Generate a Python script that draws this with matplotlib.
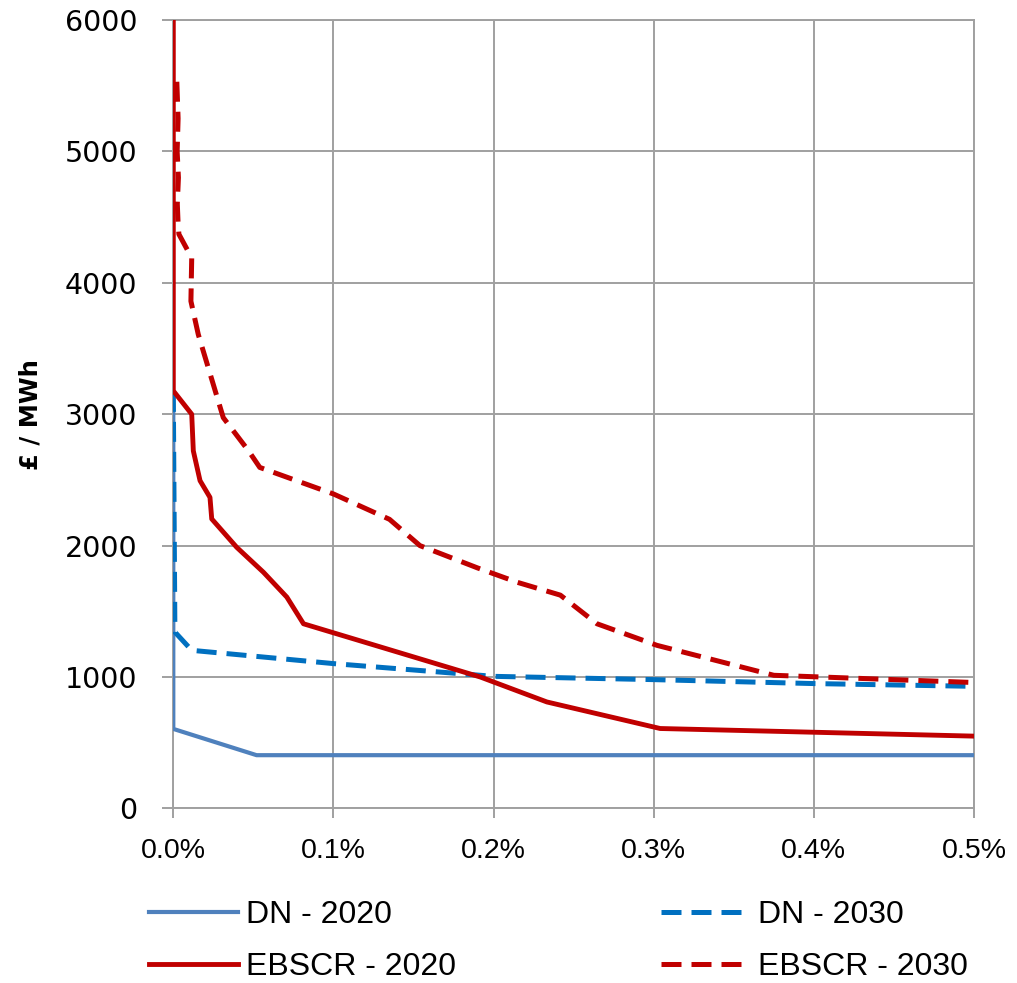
import matplotlib
matplotlib.use("Agg")
import matplotlib.pyplot as plt
from matplotlib.ticker import FuncFormatter

# ---- data (x in %, y in £/MWh) ----
dn2020_x = [0.0, 0.0, 0.052, 0.5]
dn2020_y = [3170, 605, 405, 405]

dn2030_x = [0.0, 0.001, 0.0115, 0.1, 0.2, 0.3, 0.4, 0.5]
dn2030_y = [3170, 1342, 1203, 1102, 1005, 980, 950, 929]

ebscr2020_x = [0.0, 0.0, 0.0115, 0.0125, 0.0167, 0.0229, 0.024, 0.0396, 0.0563,
               0.0709, 0.0813, 0.1917, 0.2333, 0.304, 0.5]
ebscr2020_y = [6000, 3178, 3000, 2721, 2494, 2367, 2203, 1987, 1797,
               1608, 1405, 1000, 810, 608, 550]

ebscr2030_x = [0.0022, 0.0030, 0.0024, 0.0032, 0.0025, 0.0030, 0.0035, 0.0115, 0.0110,
               0.0156, 0.0187, 0.0312, 0.047, 0.054, 0.1, 0.135, 0.154, 0.19,
               0.215, 0.2417, 0.2646, 0.302, 0.375, 0.5]
ebscr2030_y = [5530, 5250, 5000, 4800, 4600, 4450, 4370, 4189, 3860,
               3607, 3481, 2974, 2721, 2595, 2393, 2200, 2000, 1830,
               1720, 1623, 1405, 1241, 1013, 958]

labels = ["DN - 2020", "DN - 2030", "EBSCR - 2020", "EBSCR - 2030"]
x_ticks = [0.0, 0.1, 0.2, 0.3, 0.4, 0.5]
y_ticks = [0, 1000, 2000, 3000, 4000, 5000, 6000]

W, H = 1017, 983
fig = plt.figure(figsize=(W / 100, H / 100), dpi=100)
ax = fig.add_axes([173.3 / W, 1 - 808.4 / H, (974 - 173.3) / W, (808.4 - 20) / H])

grid_c = "#A0A0A0"
ax.set_xlim(0, 0.5)
ax.set_ylim(0, 6000)
ax.set_xticks(x_ticks)
ax.set_yticks(y_ticks)
ax.grid(True, color=grid_c, lw=1.4, zorder=0)
ax.set_axisbelow(True)
for s in ax.spines.values():
    s.set_color(grid_c)
    s.set_linewidth(1.4)

blue_solid = "#4F81BD"
blue_dash = "#0070C0"
red = "#C00000"
dash = (4.0, 2.0)

l1, = ax.plot(dn2020_x, dn2020_y, color=blue_solid, lw=3.0, solid_joinstyle="round", zorder=3)
l2, = ax.plot(dn2030_x, dn2030_y, color=blue_dash, lw=3.6, dashes=dash, zorder=3)
l3, = ax.plot(ebscr2020_x, ebscr2020_y, color=red, lw=3.5, solid_joinstyle="round", zorder=4)
l4, = ax.plot(ebscr2030_x, ebscr2030_y, color=red, lw=3.6, dashes=dash, zorder=4)

ax.xaxis.set_major_formatter(FuncFormatter(lambda v, p: f"{v:.1f}%"))
ax.yaxis.set_major_formatter(FuncFormatter(lambda v, p: f"{int(v)}"))

ax.tick_params(axis="y", length=8, width=1.4, color=grid_c, pad=18,
               labelsize=20.5, labelcolor="black")
ax.tick_params(axis="x", length=7, width=1.4, color=grid_c, pad=14,
               labelsize=20.5, labelcolor="black")
for t in ax.get_xticklabels():
    t.set_fontfamily("Liberation Sans")
for t in ax.get_yticklabels():
    t.set_fontfamily("DejaVu Sans")

ax.set_ylabel("£ / MWh", fontsize=17.5, fontweight="bold", family="DejaVu Sans")
ax.yaxis.set_label_coords(-0.163, 0.5)

# ncol fills column-wise, so order handles so rows read DN..., EBSCR...
leg = fig.legend([l1, l3, l2, l4], [labels[0], labels[2], labels[1], labels[3]],
                 ncol=2, frameon=False,
                 loc="center", bbox_to_anchor=(0.549, 1 - 941 / H),
                 prop={"family": "Liberation Sans", "size": 23},
                 handlelength=2.8, handletextpad=0.25, columnspacing=6.4,
                 labelspacing=0.68)

fig.savefig("out.png", dpi=100, facecolor="white")
